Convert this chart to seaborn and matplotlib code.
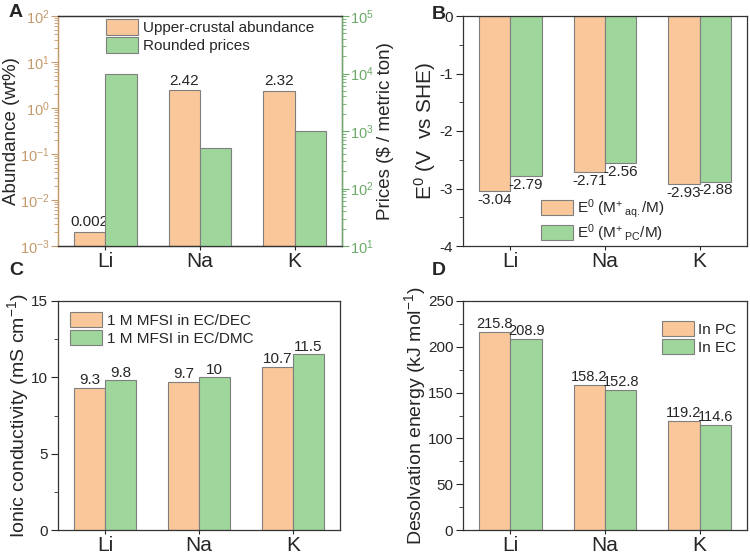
import pandas as pd
import seaborn as sns
import matplotlib.pyplot as plt
from matplotlib.ticker import MultipleLocator, LogLocator, NullFormatter

# data
metals = ["Li", "Na", "K"]
abundance = [0.002, 2.42, 2.32]            # wt%
prices = [10000, 500, 1000]                # $ / metric ton
e0_aq = [-3.04, -2.71, -2.93]
e0_pc = [-2.79, -2.56, -2.88]
cond_dec = [9.3, 9.7, 10.7]
cond_dmc = [9.8, 10.0, 11.5]
desolv_pc = [215.8, 158.2, 119.2]
desolv_ec = [208.9, 152.8, 114.6]

orange = "#F9C799"
green = "#9ED69C"
edge = "#7F7F7F"
tan = "#C49A6C"
dgreen = "#6DAA68"

sns.set_style("ticks")
plt.rcParams["font.family"] = ["Liberation Sans", "DejaVu Sans"]
plt.rcParams["mathtext.fontset"] = "custom"
plt.rcParams["mathtext.rm"] = "Liberation Sans"
plt.rcParams["mathtext.it"] = "Liberation Sans:italic"
plt.rcParams["mathtext.bf"] = "Liberation Sans:bold"
plt.rcParams["axes.unicode_minus"] = False
plt.rcParams["axes.linewidth"] = 0.9
plt.rcParams["axes.edgecolor"] = "#333333"

fig = plt.figure(figsize=(7.5, 5.55), dpi=100)
axA = fig.add_axes([58/750, 1-246/555, 284/750, 230/555])
axB = fig.add_axes([463/750, 1-246/555, 284/750, 230/555])
axC = fig.add_axes([58/750, 1-530/555, 282/750, 229/555])
axD = fig.add_axes([463/750, 1-530/555, 284/750, 229/555])


def long_df(a, b, na, nb):
    return pd.DataFrame({"metal": metals * 2,
                         "series": [na] * 3 + [nb] * 3,
                         "value": list(a) + list(b)})


def bars(ax, df, order, legend=False):
    sns.barplot(data=df, x="metal", y="value", hue="series", hue_order=order,
                palette=dict(zip(order, [orange, green])), width=0.66, dodge=True,
                edgecolor=edge, linewidth=0.8, saturation=1, legend=legend,
                ax=ax, err_kws={"linewidth": 0})


def style(ax):
    ax.set_xlabel("")
    ax.tick_params(axis="both", which="both", direction="out", top=False, right=False)
    ax.tick_params(axis="x", labelsize=15, length=3, pad=1)
    ax.tick_params(axis="y", which="major", labelsize=11, length=5, pad=2)
    ax.tick_params(axis="y", which="minor", length=3)
    for s in ax.spines.values():
        s.set_visible(True)


def legend(ax, x, y, handles=None):
    h, l = handles if handles else ax.get_legend_handles_labels()
    ax.legend(h, l, loc="upper left", bbox_to_anchor=(x, y), frameon=False,
              fontsize=11, handlelength=2.1, handleheight=1.15,
              labelspacing=0.15, handletextpad=0.3, borderpad=0, borderaxespad=0)


# ---- A: abundance and prices (log scales)
nA = ["Upper-crustal abundance", "Rounded prices"]
dfA = long_df(abundance, prices, nA[0], nA[1])
bars(axA, dfA[dfA.series == nA[0]], nA, legend=True)
axA2 = axA.twinx()
bars(axA2, dfA[dfA.series == nA[1]], nA)
axA.set_yscale("log")
axA2.set_yscale("log")
axA.set_ylim(1e-3, 1e2)
axA2.set_ylim(1e1, 1e5)
axA.set_xlim(-0.5, 2.5)
style(axA)
axA.tick_params(axis="y", which="major", labelsize=10.5, pad=1)
axA.set_ylabel("Abundance (wt%)", fontsize=13.5, labelpad=0)
axA.tick_params(axis="y", which="both", colors=tan)
axA.spines["left"].set_color(tan)
axA2.set_ylabel("Prices ($ / metric ton)", fontsize=13.5, labelpad=2)
axA2.tick_params(axis="y", which="both", direction="out", colors=dgreen, labelsize=10.5, pad=1)
axA2.tick_params(axis="y", which="major", length=5)
axA2.tick_params(axis="y", which="minor", length=3)
axA2.spines["right"].set_color(dgreen)
axA2.spines["left"].set_color(tan)
for a in (axA, axA2):
    a.yaxis.set_minor_locator(LogLocator(base=10, subs=range(2, 10), numticks=20))
    a.yaxis.set_minor_formatter(NullFormatter())
for i, v in enumerate(abundance):
    axA.text(i - 0.165, v * 1.15, f"{v:g}", ha="center", va="bottom", fontsize=11)
hA = axA.get_legend_handles_labels()
axA.get_legend().remove()
legend(axA2, 0.17, 0.985, hA)

# ---- B: standard potentials
nB = [r"E$^0$ ($\mathrm{M}^{+}\,{}_{\mathrm{aq.}}$/M)",
      r"E$^0$ ($\mathrm{M}^{+}\,{}_{\mathrm{PC}}$/M)"]
bars(axB, long_df(e0_aq, e0_pc, nB[0], nB[1]), nB, legend=True)
axB.set_ylim(-4, 0)
axB.set_xlim(-0.5, 2.5)
style(axB)
axB.yaxis.set_major_locator(MultipleLocator(1))
axB.yaxis.set_minor_locator(MultipleLocator(0.5))
axB.set_ylabel(r"E$^0$ (V  vs SHE)", fontsize=15, labelpad=1)
for i, (a, b) in enumerate(zip(e0_aq, e0_pc)):
    axB.text(i - 0.165, a - 0.03, f"{a:.2f}", ha="center", va="top", fontsize=11)
    axB.text(i + 0.165, b - 0.03, f"{b:.2f}", ha="center", va="top", fontsize=11)
legend(axB, 0.274, 0.213)

# ---- C: ionic conductivity
nC = ["1 M MFSI in EC/DEC", "1 M MFSI in EC/DMC"]
bars(axC, long_df(cond_dec, cond_dmc, nC[0], nC[1]), nC, legend=True)
axC.set_ylim(0, 15)
axC.set_xlim(-0.5, 2.5)
style(axC)
axC.yaxis.set_major_locator(MultipleLocator(5))
axC.yaxis.set_minor_locator(MultipleLocator(2.5))
axC.set_ylabel(r"Ionic conductivity (mS cm$^{-1}$)", fontsize=14, labelpad=0)
for i, (a, b) in enumerate(zip(cond_dec, cond_dmc)):
    axC.text(i - 0.165, a + 0.05, f"{a:g}", ha="center", va="bottom", fontsize=11)
    axC.text(i + 0.165, b + 0.05, f"{b:g}", ha="center", va="bottom", fontsize=11)
legend(axC, 0.043, 0.952)

# ---- D: desolvation energy
nD = ["In PC", "In EC"]
bars(axD, long_df(desolv_pc, desolv_ec, nD[0], nD[1]), nD, legend=True)
axD.set_ylim(0, 250)
axD.set_xlim(-0.5, 2.5)
style(axD)
axD.yaxis.set_major_locator(MultipleLocator(50))
axD.yaxis.set_minor_locator(MultipleLocator(25))
axD.set_ylabel(r"Desolvation energy (kJ mol$^{-1}$)", fontsize=14, labelpad=0)
for i, (a, b) in enumerate(zip(desolv_pc, desolv_ec)):
    axD.text(i - 0.17, a + 1, f"{a:.1f}", ha="center", va="bottom", fontsize=10.5)
    axD.text(i + 0.17, b + 1, f"{b:.1f}", ha="center", va="bottom", fontsize=10.5)
legend(axD, 0.70, 0.913)

# panel letters
for lab, x, y in [("A", 9, 4), ("B", 432, 6), ("C", 9, 262), ("D", 432, 262)]:
    fig.text(x/750, 1 - y/555, lab, fontsize=14, fontweight="bold", va="top", ha="left")

fig.savefig("out.png", dpi=100)
